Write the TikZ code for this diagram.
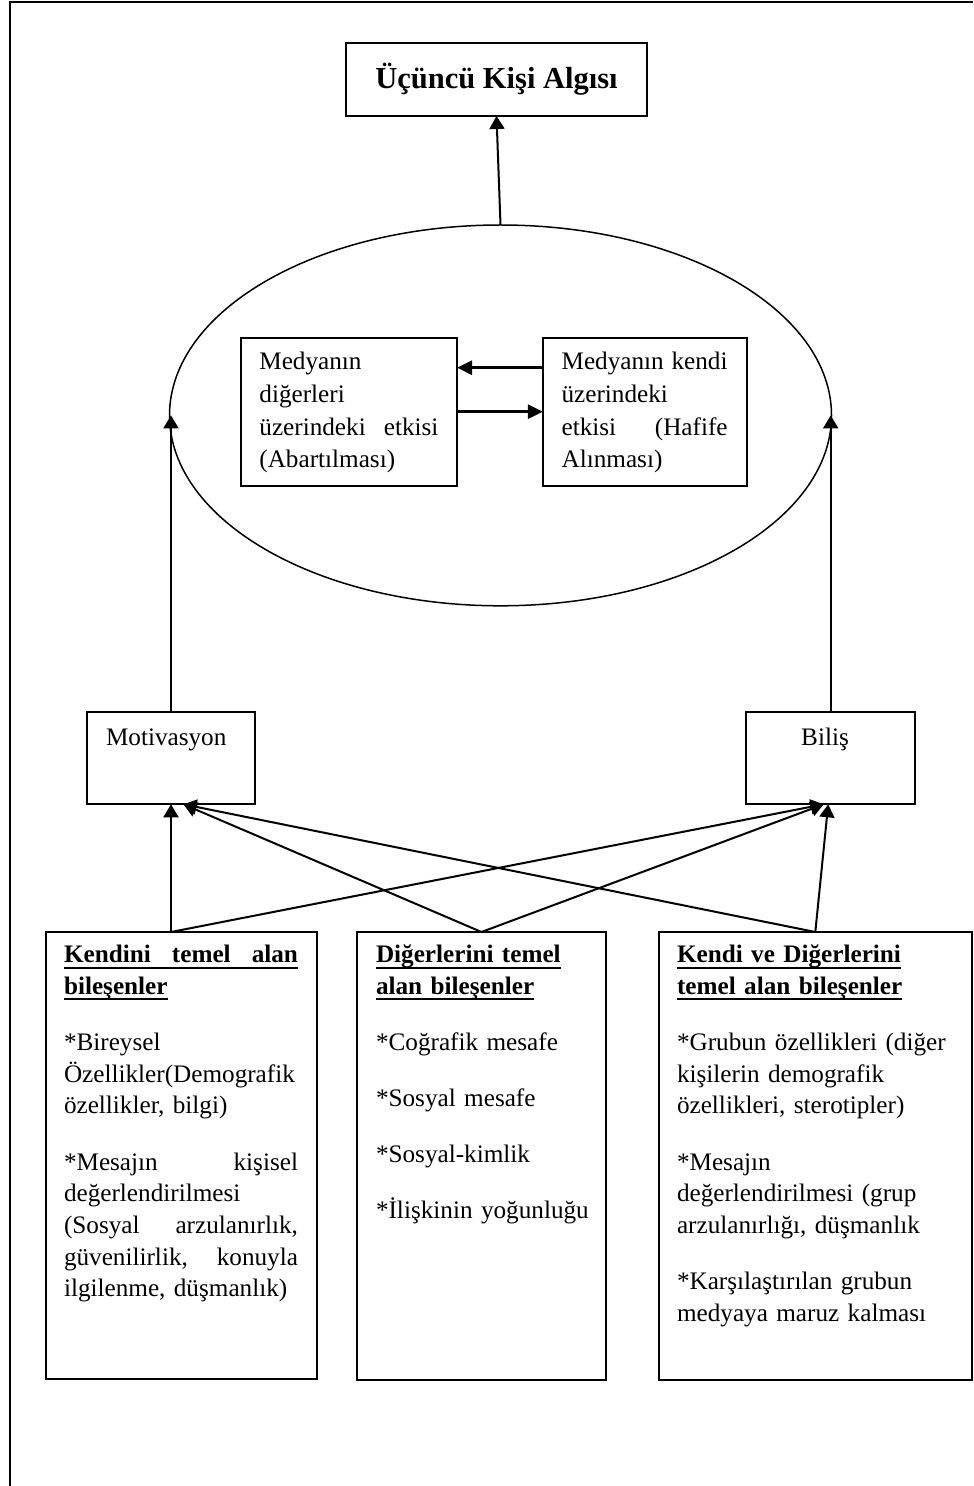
\documentclass[tikz,border=0pt]{standalone}
\usepackage{fontspec}
\setmainfont{Liberation Serif}
\usetikzlibrary{arrows.meta,calc,shapes.geometric}
\newcommand\jl[1]{\makebox[\linewidth][s]{\spaceskip=0pt\xspaceskip=0pt #1}}
\newcommand\ulb[1]{{\setbox0\hbox{#1}\rlap{\rule[-3pt]{\wd0}{1pt}}\box0}}
\begin{document}
\begin{tikzpicture}[x=0.5pt,y=-0.5pt,
  box/.style={draw, rectangle, line width=1pt, inner sep=0pt, outer sep=0pt},
  txt/.style={inner sep=0pt, outer sep=0pt, anchor=base west, align=left,
              font=\fontsize{12.6pt}{15.85pt}\selectfont},
  itxt/.style={inner sep=0pt, outer sep=0pt, anchor=base west, align=left,
              font=\fontsize{12.6pt}{16.3pt}\selectfont},
  arr/.style={line width=1pt, -{Triangle[length=6.5pt,width=7.5pt]}},
  arrB/.style={line width=1.5pt, -{Triangle[length=7.5pt,width=7pt]}}]
\useasboundingbox (0,0) rectangle (973,1486);
\draw[line width=0.9pt] (10,1486) -- (10,2) -- (973,2);

% title
\node[box, minimum width=150.5pt, minimum height=36.5pt,
      font=\fontsize{15.25pt}{18pt}\selectfont\bfseries] (tb) at (496.5,79.5) {Üçüncü Kişi Algısı};

% ellipse
\node[draw, ellipse, line width=0.75pt, inner sep=0pt, outer sep=0pt,
      minimum width=331pt, minimum height=190.4pt] (ell) at (500.5,415.4) {};

% inner boxes
\node[box, minimum width=108.2pt, minimum height=74pt] (ib1) at (348.8,411.7) {};
\node[box, minimum width=102.2pt, minimum height=74pt] (ib2) at (645.1,411.7) {};
\node[itxt, text width=89.5pt] (ib1t) at (259.4,370)
  {Medyanın\\diğerleri\\\jl{üzerindeki etkisi}\\(Abartılması)};
\node[itxt, text width=83pt] (ib2t) at (561.6,370)
  {\jl{Medyanın kendi}\\üzerindeki\\\jl{etkisi (Hafife}\\Alınması)};
\draw[arrB] ($(ib2.west)+(0,-44)$) -- ($(ib1.east)+(0,-44)$);
\draw[arrB] (ib1.east) -- (ib2.west);

% middle boxes
\node[box, minimum width=84pt, minimum height=46.3pt] (mot) at (171,758) {};
\node[box, minimum width=84.7pt, minimum height=46.3pt] (bil) at (830.7,758) {};
\node[txt] (mott) at (106,745) {Motivasyon};
\node[inner sep=0pt, outer sep=0pt, anchor=base, font=\fontsize{12.6pt}{15.85pt}\selectfont] (bilt) at (825,745) {Biliş};

% bottom boxes
\node[box, minimum width=135.5pt, minimum height=223.5pt] (kb) at (181.2,1155.5) {};
\node[box, minimum width=124.5pt, minimum height=224pt] (mb) at (481.5,1156) {};
\node[box, minimum width=156.35pt, minimum height=224pt] (rb) at (815.3,1156) {};

\node[txt, text width=117pt] (kbt) at (64,962.7)
  {\textbf{\ulb{\jl{Kendini temel alan}}}\\\textbf{\ulb{bileşenler}}\\[12.2pt]
   *Bireysel\\Özellikler(Demografik\\özellikler, bilgi)\\[12.2pt]
   \jl{*Mesajın kişisel}\\değerlendirilmesi\\\jl{(Sosyal arzulanırlık,}\\\jl{güvenilirlik, konuyla}\\ilgilenme, düşmanlık)};
\node[txt, text width=112.5pt] (mbt) at (376,962.7)
  {\textbf{\ulb{Diğerlerini temel}}\\\textbf{\ulb{alan bileşenler}}\\[12.2pt]
   *Coğrafik mesafe\\[12.2pt]*Sosyal mesafe\\[12.2pt]*Sosyal-kimlik\\[12.2pt]*İlişkinin yoğunluğu};
\node[txt, text width=142.5pt] (rbt) at (677,962.7)
  {\textbf{\ulb{Kendi ve Diğerlerini}}\\\textbf{\ulb{temel alan bileşenler}}\\[12.2pt]
   *Grubun özellikleri (diğer\\kişilerin demografik\\özellikleri, sterotipler)\\[12.2pt]
   *Mesajın\\değerlendirilmesi (grup\\arzulanırlığı, düşmanlık\\[12.2pt]
   *Karşılaştırılan grubun\\medyaya maruz kalması};

% connectors
\draw[arr] (ell.north) -- (tb.south);
\draw[arr] (mot.north) -- (mot.north |- ell.west);
\draw[arr] (bil.north) -- (bil.north |- ell.east);
\coordinate (mtip) at ($(mot.south)+(12.5,0)$);
\coordinate (btip) at ($(bil.south)+(-7,0)$);
\coordinate (btip2) at ($(bil.south)+(-2.5,0)$);
\coordinate (ksrc) at (kb.north -| mot.south);
\draw[arr] (ksrc) -- (mot.south);
\draw[arr] (ksrc) -- (btip);
\draw[arr] (mb.north) -- (mtip);
\draw[arr] (mb.north) -- (btip);
\draw[arr] (rb.north) -- (mtip);
\draw[arr] (rb.north) -- (btip2);
\end{tikzpicture}
\end{document}
